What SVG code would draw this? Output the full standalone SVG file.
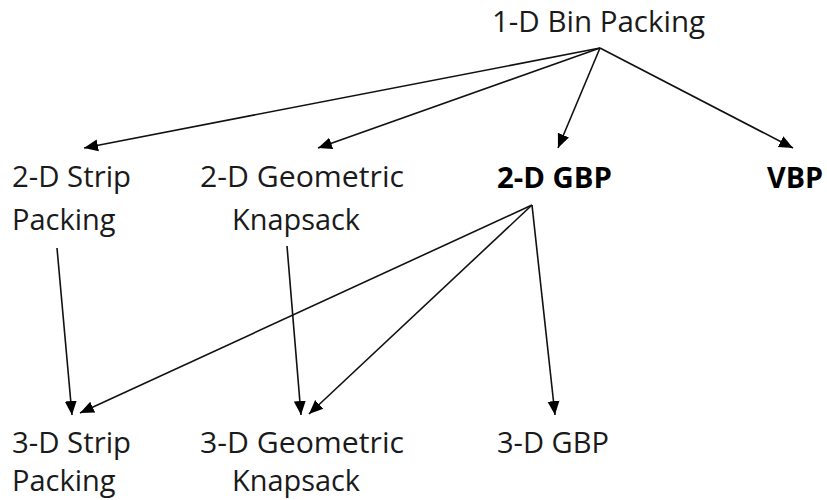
<svg xmlns="http://www.w3.org/2000/svg" width="827" height="500" viewBox="0 0 827 500">
<style>
text{font-family:"Open Sans","Noto Sans",sans-serif;font-size:29px;fill:#1a1a1a}
.b{font-weight:bold;fill:#000}
.e{stroke:#111;stroke-width:1.6;fill:none;marker-end:url(#ah)}
</style>
<defs>
<marker id="ah" markerUnits="userSpaceOnUse" markerWidth="16" markerHeight="14" refX="14" refY="6" orient="auto" viewBox="0 0 16 12">
<path d="M0,0 L14,6 L0,12 Z" fill="#000"/>
</marker>
</defs>
<rect width="827" height="500" fill="#fff"/>
<g id="connectors">
<path class="e" d="M600,48 L84,148"/>
<path class="e" d="M600,48 L318,148"/>
<path class="e" d="M600,48 L558,148"/>
<path class="e" d="M600,48 L793,148"/>
<path class="e" d="M532,205 L80,413"/>
<path class="e" d="M532,205 L309,414"/>
<path class="e" d="M532,205 L555,415"/>
<path class="e" d="M57,248 L72,415"/>
<path class="e" d="M287,246 L301,415"/>
</g>
<g id="n1d"><text x="492" y="32" textLength="213" lengthAdjust="spacingAndGlyphs">1-D Bin Packing</text></g>
<g id="n2dstrip"><text x="12" y="187" textLength="119" lengthAdjust="spacingAndGlyphs">2-D Strip</text><text x="12" y="230">Packing</text></g>
<g id="n2dgeo"><text x="200" y="187" textLength="204" lengthAdjust="spacingAndGlyphs">2-D Geometric</text><text x="232" y="230" textLength="128" lengthAdjust="spacingAndGlyphs">Knapsack</text></g>
<g id="n2dgbp"><text class="b" x="497" y="188" textLength="115" lengthAdjust="spacingAndGlyphs">2-D GBP</text></g>
<g id="nvbp"><text class="b" x="767" y="188" textLength="56" lengthAdjust="spacingAndGlyphs">VBP</text></g>
<g id="n3dstrip"><text x="12" y="453" textLength="119" lengthAdjust="spacingAndGlyphs">3-D Strip</text><text x="12" y="491">Packing</text></g>
<g id="n3dgeo"><text x="200" y="453" textLength="204" lengthAdjust="spacingAndGlyphs">3-D Geometric</text><text x="232" y="491" textLength="128" lengthAdjust="spacingAndGlyphs">Knapsack</text></g>
<g id="n3dgbp"><text x="497" y="453" textLength="112" lengthAdjust="spacingAndGlyphs">3-D GBP</text></g>
</svg>
